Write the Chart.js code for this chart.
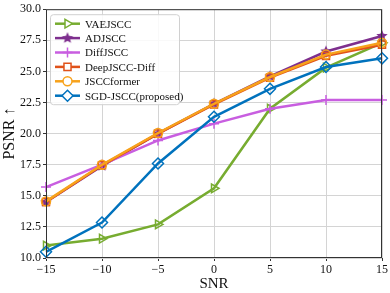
<!DOCTYPE html>
<html>
<head>
<meta charset="utf-8">
<script src="https://cdn.jsdelivr.net/npm/chart.js@4.4.1/dist/chart.umd.min.js"></script>
<style>
  html, body { margin: 0; padding: 0; background: #fff; }
  #wrap { width: 390px; height: 293px; }
</style>
</head>
<body>
<div id="wrap"><canvas id="grafico"></canvas></div>
<script>
// datos
const snr = [-15, -10, -5, 0, 5, 10, 15];
const yTicks = [10, 12.5, 15, 17.5, 20, 22.5, 25, 27.5, 30];
const nombres = ['VAEJSCC', 'ADJSCC', 'DiffJSCC', 'DeepJSCC-Diff', 'JSCCformer', 'SGD-JSCC(proposed)'];
const vaejscc = [11.0, 11.55, 12.7, 15.6, 22.0, 25.3, 27.3];
const adjscc = [14.5, 17.4, 20.0, 22.4, 24.6, 26.6, 27.85];
const diffjscc = [15.7, 17.5, 19.45, 20.8, 22.0, 22.7, 22.7];
const deepjsccDiff = [14.5, 17.45, 20.0, 22.35, 24.5, 26.25, 27.15];
const jsccformer = [14.55, 17.5, 20.05, 22.4, 24.55, 26.35, 27.3];
const sgdjscc = [10.5, 12.85, 17.6, 21.35, 23.6, 25.35, 26.05];

const colores = ['#77ac30', '#7e2f8e', '#c85ee0', '#e0521a', '#f7a21b', '#0072bd'];

// estrella rellena para ADJSCC
function hacerEstrella(color, r) {
    const c = document.createElement('canvas');
    c.width = r * 2 + 2; c.height = r * 2 + 2;
    const ctx = c.getContext('2d');
    ctx.beginPath();
    for (let i = 0; i < 10; i++) {
        const rad = i % 2 === 0 ? r : r * 0.45;
        const a = -Math.PI / 2 + i * Math.PI / 5;
        const px = r + 1 + rad * Math.cos(a);
        const py = r + 1 + rad * Math.sin(a);
        if (i === 0) ctx.moveTo(px, py); else ctx.lineTo(px, py);
    }
    ctx.closePath();
    ctx.fillStyle = color;
    ctx.fill();
    return c;
}
const estrella = hacerEstrella(colores[1], 6);

const series = [vaejscc, adjscc, diffjscc, deepjsccDiff, jsccformer, sgdjscc];
const estilos = [
    { pointStyle: 'triangle', rotation: 90, radius: 5 },
    { pointStyle: estrella, rotation: 0, radius: 6 },
    { pointStyle: 'cross', rotation: 0, radius: 5 },
    { pointStyle: 'rect', rotation: 0, radius: 5 },
    { pointStyle: 'circle', rotation: 0, radius: 4.5 },
    { pointStyle: 'rectRot', rotation: 0, radius: 5.5 }
];

const datasets = series.map((vals, i) => ({
    label: nombres[i],
    data: vals.map((v, j) => ({ x: snr[j], y: v })),
    borderColor: colores[i],
    backgroundColor: 'rgba(255,255,255,0)',
    borderWidth: 2.5,
    pointStyle: estilos[i].pointStyle,
    rotation: estilos[i].rotation,
    pointRadius: estilos[i].radius,
    pointBorderWidth: 1.5,
    pointBackgroundColor: 'rgba(255,255,255,0)',
    pointBorderColor: colores[i],
    order: 6 - i,
    clip: false
}));

// leyenda dentro del area del grafico
const leyendaPlugin = {
    id: 'leyendaInterna',
    afterDraw(chart) {
        const ctx = chart.ctx;
        const area = chart.chartArea;
        const x0 = area.left + 4, y0 = area.top + 5;
        const w = 129, h = 90;
        ctx.save();
        ctx.fillStyle = 'rgba(255,255,255,0.85)';
        ctx.strokeStyle = '#d0d0d0';
        ctx.lineWidth = 1;
        ctx.beginPath();
        ctx.roundRect(x0 + 0.5, y0 + 0.5, w, h, 3);
        ctx.fill();
        ctx.stroke();
        ctx.font = '11px "Liberation Serif", serif';
        ctx.textBaseline = 'middle';
        chart.data.datasets.forEach((ds, i) => {
            const y = y0 + 9.5 + i * 14.4;
            ctx.strokeStyle = ds.borderColor;
            ctx.lineWidth = ds.borderWidth;
            ctx.beginPath();
            ctx.moveTo(x0 + 5, y);
            ctx.lineTo(x0 + 30, y);
            ctx.stroke();
            ctx.fillStyle = '#fff';
            ctx.lineWidth = ds.pointBorderWidth;
            Chart.helpers.drawPoint(ctx, {
                pointStyle: ds.pointStyle,
                rotation: ds.rotation,
                radius: ds.pointRadius,
                borderWidth: ds.pointBorderWidth
            }, x0 + 17.5, y);
            ctx.fillStyle = '#111';
            ctx.fillText(ds.label, x0 + 35, y + 1);
        });
        ctx.restore();
    }
};

// marco completo alrededor del grafico
const marcoPlugin = {
    id: 'marco',
    afterDatasetsDraw(chart) {
        const a = chart.chartArea;
        const ctx = chart.ctx;
        ctx.save();
        ctx.strokeStyle = '#333';
        ctx.lineWidth = 1;
        ctx.strokeRect(a.left + 0.5, a.top + 0.5, a.right - a.left - 1, a.bottom - a.top - 1);
        ctx.restore();
    }
};

const fuente = '"Liberation Serif", "DejaVu Serif", serif';

new Chart(document.getElementById('grafico').getContext('2d'), {
    type: 'line',
    data: { datasets },
    options: {
        responsive: true,
        maintainAspectRatio: false,
        animation: false,
        devicePixelRatio: 1,
        layout: { padding: { left: 0, right: 8, top: 7, bottom: 0 } },
        plugins: { legend: { display: false }, tooltip: { enabled: false } },
        elements: { line: { tension: 0 } },
        scales: {
            x: {
                type: 'linear',
                min: -15, max: 15,
                afterBuildTicks: s => { s.ticks = snr.map(v => ({ value: v })); },
                afterFit: s => { s.height = 35; },
                ticks: {
                    color: '#111',
                    font: { family: fuente, size: 12 },
                    padding: 2,
                    maxRotation: 0,
                    callback: v => (v < 0 ? '\u2212' + Math.abs(v) : String(v))
                },
                grid: { color: '#d4d4d4', lineWidth: 1, tickLength: 3, tickColor: '#333' },
                border: { display: false },
                title: { display: true, text: 'SNR', color: '#111', font: { family: fuente, size: 15 }, padding: { top: 0, bottom: 0 } }
            },
            y: {
                min: 10, max: 30,
                afterBuildTicks: s => { s.ticks = yTicks.map(v => ({ value: v })); },
                afterFit: s => { s.width = 46; },
                ticks: {
                    color: '#111',
                    font: { family: fuente, size: 12 },
                    padding: 2,
                    callback: v => v.toFixed(1)
                },
                grid: { color: '#d4d4d4', lineWidth: 1, tickLength: 3, tickColor: '#333' },
                border: { display: false },
                title: { display: true, text: 'PSNR \u2191', color: '#111', font: { family: fuente, size: 16 }, padding: { top: 0, bottom: 0 } }
            }
        }
    },
    plugins: [marcoPlugin, leyendaPlugin]
});
</script>
</body>
</html>
